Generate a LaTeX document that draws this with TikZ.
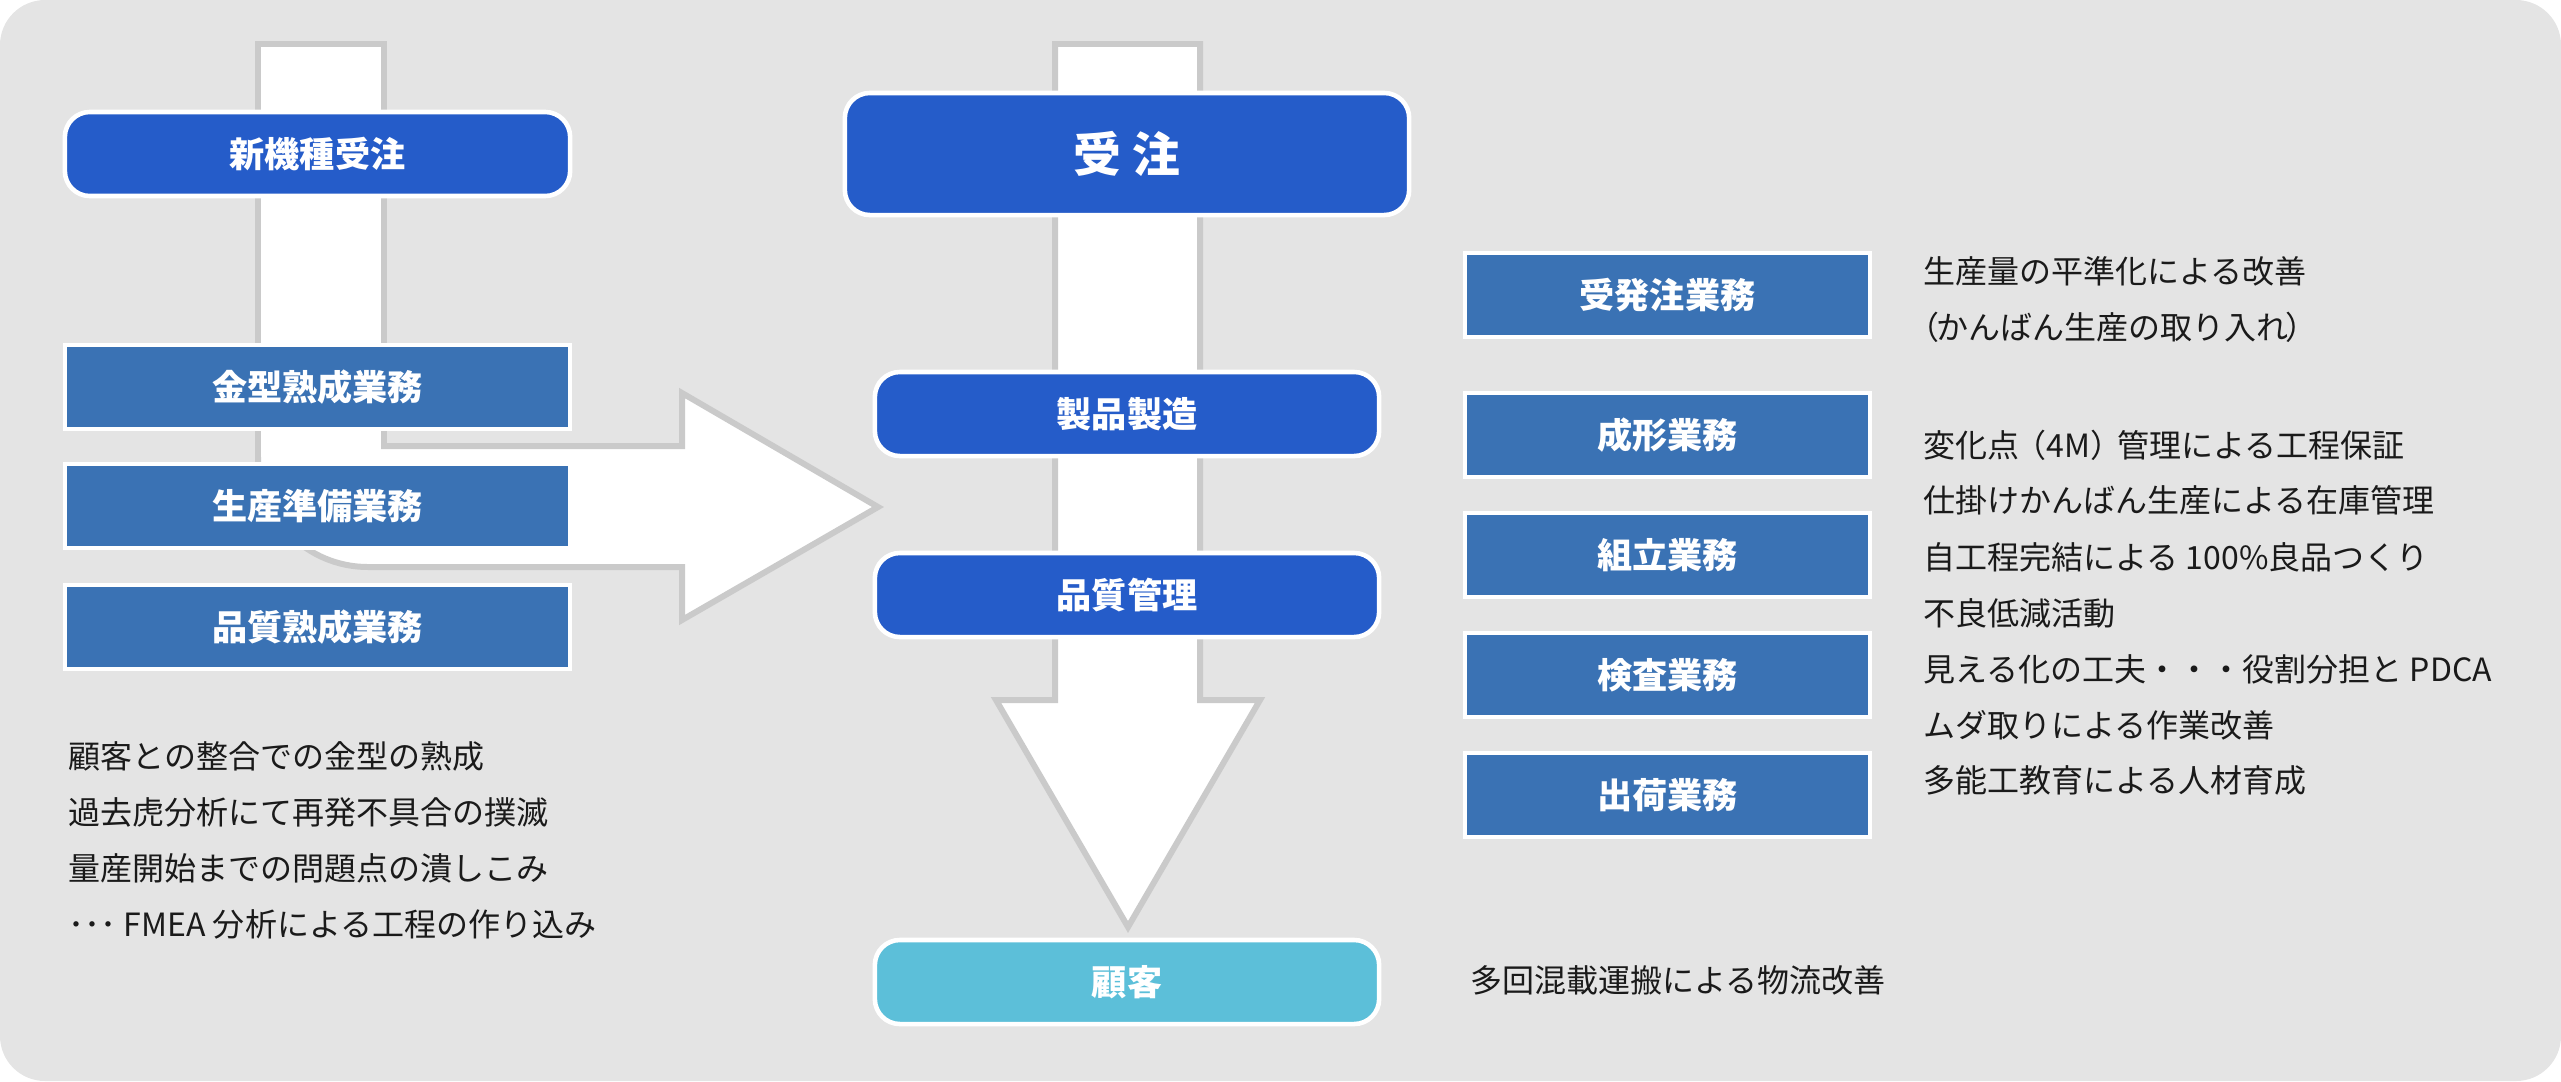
\documentclass[tikz,border=0pt]{standalone}
\usepackage{fontspec}
\newfontfamily\cjk{Noto Sans CJK JP}
\definecolor{bgc}{HTML}{E4E4E4}
\definecolor{dblue}{HTML}{255CC9}
\definecolor{sblue}{HTML}{3A72B4}
\definecolor{cyanb}{HTML}{5CBFD9}
\definecolor{arrb}{HTML}{CACACA}
\definecolor{txt}{HTML}{1A1A1A}
\begin{document}
\begin{tikzpicture}[x=0.01cm,y=-0.01cm,
  bigarrow/.style={fill=white, draw=arrb, line width=1.7pt, line join=miter},
  boxbase/.style={draw=white, line width=1.3pt, text=white, inner sep=0pt,
    font=\cjk\bfseries\fontsize{10}{12}\selectfont},
  roundbox/.style={boxbase, fill=dblue, rounded corners=0.25cm, minimum height=0.84cm},
  rectbox/.style={boxbase, fill=sblue, minimum height=0.84cm},
  note/.style={anchor=west, inner sep=0pt, text=txt, font=\cjk\fontsize{9.1}{11}\selectfont}]
\useasboundingbox (0,0) rectangle (2561,1081);
\fill[bgc, rounded corners=0.45cm] (0,0) rectangle (2561,1081);

% left bent arrow
\draw[bigarrow] (258,44) -- (384,44) -- (384,446) -- (682,446) -- (682,393)
  -- (878,507) -- (682,620) -- (682,567) -- (368,567)
  .. controls (307,567) and (258,518) .. (258,457) -- cycle;

% main down arrow
\draw[bigarrow] (1055,44) -- (1200,44) -- (1200,700) -- (1260,700)
  -- (1128,927) -- (996,700) -- (1055,700) -- cycle;

% left column
\node[roundbox, minimum width=5.05cm] (shinki) at (317.5,154) {新機種受注};
\node[rectbox, minimum width=5.05cm] (kanagata) at (317.5,387) {金型熟成業務};
\node[rectbox, minimum width=5.05cm] (seisanjunbi) at (317.5,506) {生産準備業務};
\node[rectbox, minimum width=5.05cm] (hinshitsujuku) at (317.5,627) {品質熟成業務};

\node[note] (l1) at (68,756) {顧客との整合での金型の熟成};
\node[note] (l2) at (68,812) {過去虎分析にて再発不具合の撲滅};
\node[note] (l3) at (68,868) {量産開始までの問題点の潰しこみ};
\node[note] (l4) at (68,924) {･･･ FMEA 分析による工程の作り込み};

% center column
\node[roundbox, minimum width=5.64cm, minimum height=1.22cm,
  font=\cjk\bfseries\fontsize{13.6}{16}\selectfont] (juchu) at (1127,154) {受\kern3pt注};
\node[roundbox, minimum width=5.04cm] (seihin) at (1127,414) {製品製造};
\node[roundbox, minimum width=5.04cm] (kanri) at (1127,595) {品質管理};
\node[roundbox, fill=cyanb, minimum width=5.04cm] (kokyaku) at (1127,982) {顧客};

% right column
\node[rectbox, minimum width=4.05cm] (hacchu) at (1667.5,295) {受発注業務};
\node[rectbox, minimum width=4.05cm] (seikei) at (1667.5,435) {成形業務};
\node[rectbox, minimum width=4.05cm] (kumitate) at (1667.5,555) {組立業務};
\node[rectbox, minimum width=4.05cm] (kensa) at (1667.5,675) {検査業務};
\node[rectbox, minimum width=4.05cm] (shukka) at (1667.5,795) {出荷業務};

\node[note] (r1) at (1923,271) {生産量の平準化による改善};
\node[note] (r2) at (1923,327) {\kern-0.5em（\kern-0.1emかんばん生産の取り入れ\kern-0.1em）};
\node[note] (r3) at (1923,445) {変化点\kern-0.15em（4M）\kern-0.15em管理による工程保証};
\node[note] (r4) at (1923,500) {仕掛けかんばん生産による在庫管理};
\node[note] (r5) at (1923,557) {自工程完結による 100\%良品つくり};
\node[note] (r6) at (1923,613) {不良低減活動};
\node[note] (r7) at (1923,669) {見える化の工夫・・・役割分担と PDCA};
\node[note] (r8) at (1923,725) {ムダ取りによる作業改善};
\node[note] (r9) at (1923,780) {多能工教育による人材育成};

\node[note] (butsuryu) at (1470,980) {多回混載運搬による物流改善};
\end{tikzpicture}
\end{document}
